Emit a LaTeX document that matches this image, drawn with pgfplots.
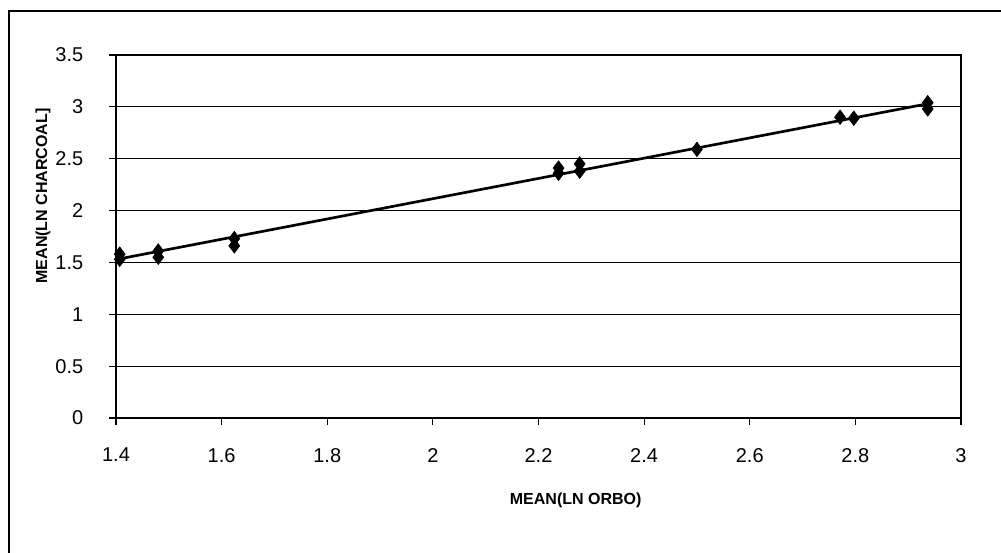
\documentclass[border=0pt]{standalone}
\usepackage{pgfplots}
\pgfplotsset{compat=1.18}
\usepackage{fontspec}
\setmainfont{Liberation Sans}
\begin{document}
\begin{tikzpicture}
\useasboundingbox (0,0) rectangle (750.75pt,414.75pt);
\draw[line width=1.2pt] (6.75pt,0pt) -- (6.75pt,406.5pt) -- (750.75pt,406.5pt);
\begin{axis}[
  at={(87pt,101.25pt)}, anchor=south west,
  scale only axis, width=633.75pt, height=272.25pt,
  xmin=1.4, xmax=3.0, ymin=0, ymax=3.5,
  xtick={1.4,1.6,1.8,2.0,2.2,2.4,2.6,2.8,3.0},
  xticklabels={1.4,1.6,1.8,2,2.2,2.4,2.6,2.8,3},
  ytick={0,0.5,1,1.5,2,2.5,3,3.5},
  yticklabels={0,0.5,1,1.5,2,2.5,3,3.5},
  ymajorgrids, grid style={black, line width=0.9pt},
  axis line style={black, line width=1.1pt},
  tick style={black, line width=0.8pt},
  tick align=outside, major tick length=5pt,
  xtick pos=bottom, ytick pos=left,
  ticklabel style={font=\fontsize{15}{17}\selectfont},
  xticklabel style={yshift=-14pt},
  yticklabel style={xshift=-16pt},
  xlabel={\fontsize{12}{14}\selectfont\bfseries MEAN(LN ORBO)},
  ylabel={\fontsize{12}{14}\selectfont\bfseries MEAN(LN CHARCOAL]},
  xlabel style={at={(axis description cs:0.544,-0.226)}, anchor=center},
  ylabel style={at={(axis description cs:-0.0864,0.6116)}, anchor=center},
]
\addplot[only marks, mark=diamond*, mark size=5.5pt, black] coordinates {
  (1.407,1.58) (1.407,1.53)
  (1.48,1.61) (1.48,1.55)
  (1.624,1.73) (1.624,1.66)
  (2.238,2.41) (2.238,2.36)
  (2.278,2.45) (2.278,2.38)
  (2.50,2.59)
  (2.771,2.90) (2.797,2.89)
  (2.937,3.04) (2.937,2.98)
};
\addplot[black, line width=2pt] coordinates {(1.407,1.535) (2.937,3.03)};
\end{axis}
\end{tikzpicture}
\end{document}
